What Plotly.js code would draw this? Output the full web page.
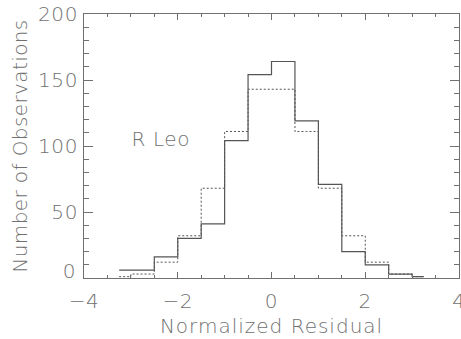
<!DOCTYPE html>
<html>
<head>
<meta charset="utf-8">
<script src="https://cdn.plot.ly/plotly-3.0.1.min.js"></script>
<style>
  html, body { margin: 0; padding: 0; background: #fff; }
  #chart { width: 461px; height: 339px; }
  /* open up the lettering a little, like a stroke plotting font */
  #chart .xtitle { letter-spacing: 1px; }
  #chart .ytitle { letter-spacing: 0.4px; }
  #chart .xtick text, #chart .ytick text, #chart .annotation-text { letter-spacing: 0.6px; }
</style>
</head>
<body>
<div id="chart"></div>
<script>
// Bin centres of the residual histogram (bin width 0.5)
const binCenters = [-3.25, -2.75, -2.25, -1.75, -1.25, -0.75, -0.25, 0.25, 0.75, 1.25, 1.75, 2.25, 2.75, 3.25];
// Observed counts per bin (solid)
const observedCounts = [6, 6, 16, 30, 41, 104, 154, 164, 119, 71, 20, 10, 3, 1];
// Expected counts per bin for a unit normal (dotted)
const expectedCounts = [1, 3, 12, 32, 68, 111, 143, 143, 111, 68, 32, 12, 3, 1];

const yTickVals = [0, 50, 100, 150, 200];
const yTickText = ['', '50', '100', '150', '200'];
const starLabel = 'R Leo';

const ink = '#707070';
const fontFamily = '"DejaVu Sans", "Liberation Sans", sans-serif';
const baseFont = { family: fontFamily, size: 20, color: ink, weight: 200 };

const traces = [
  {
    x: binCenters, y: expectedCounts, type: 'scatter', mode: 'lines',
    line: { shape: 'hvh', color: '#555', width: 1, dash: '2px,2px' },
    hoverinfo: 'skip'
  },
  {
    x: binCenters, y: observedCounts, type: 'scatter', mode: 'lines',
    line: { shape: 'hvh', color: '#555', width: 1.2 },
    hoverinfo: 'skip'
  }
];

const layout = {
  width: 461, height: 339,
  margin: { l: 84, r: 2, t: 14, b: 61 },
  paper_bgcolor: '#fff', plot_bgcolor: '#fff',
  showlegend: false,
  font: baseFont,
  xaxis: {
    range: [-4, 4], tickmode: 'linear', tick0: 0, dtick: 2,
    ticks: 'inside', ticklen: 6, tickwidth: 1, tickcolor: ink,
    minor: { tick0: 0, dtick: 0.5, ticks: 'inside', ticklen: 3, tickcolor: ink, tickwidth: 1 },
    showline: true, linecolor: ink, linewidth: 1, mirror: 'ticks',
    showgrid: false, zeroline: false,
    tickfont: baseFont, ticklabelstandoff: 5, ticklabeloverflow: 'allow',
    title: { text: 'Normalized Residual', font: baseFont, standoff: 6 }
  },
  yaxis: {
    range: [0, 200], tickmode: 'array', tickvals: yTickVals, ticktext: yTickText,
    ticks: 'inside', ticklen: 9, tickwidth: 1, tickcolor: ink,
    minor: { tick0: 0, dtick: 10, ticks: 'inside', ticklen: 5, tickcolor: ink, tickwidth: 1 },
    showline: true, linecolor: ink, linewidth: 1, mirror: 'ticks',
    showgrid: false, zeroline: false,
    tickfont: baseFont, ticklabelstandoff: 1,
    title: { text: 'Number of Observations', font: baseFont, standoff: 6 }
  },
  annotations: [
    { // bottom "0" label sits just above the axis corner
      text: '0', xref: 'paper', yref: 'y', x: 0, y: 5,
      xanchor: 'right', yanchor: 'middle', xshift: -6, showarrow: false, font: baseFont
    },
    {
      text: starLabel, xref: 'x', yref: 'y', x: -2.99, y: 105.5,
      xanchor: 'left', yanchor: 'middle', showarrow: false, font: baseFont
    }
  ]
};

Plotly.newPlot('chart', traces, layout, { staticPlot: true, displayModeBar: false });
</script>
</body>
</html>
